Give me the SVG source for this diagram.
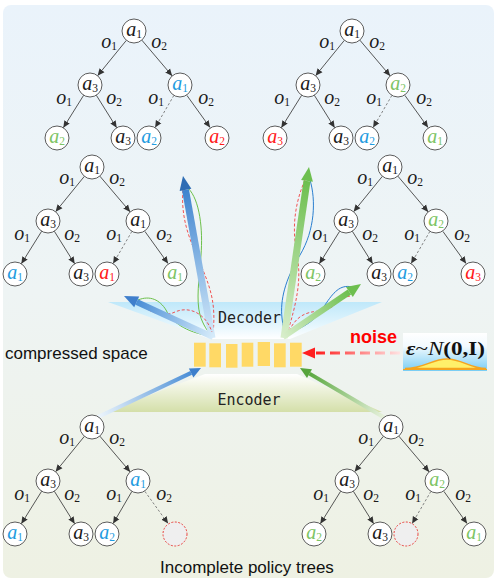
<svg xmlns="http://www.w3.org/2000/svg" width="499" height="583" viewBox="0 0 499 583">
<defs>
<style>
.nc{fill:#fff;stroke:#4a4a4a;stroke-width:0.9}
.ec{fill:#efefef;stroke:#e8312f;stroke-width:0.9;stroke-dasharray:2 1.5}
.t{font-family:"Liberation Serif","DejaVu Serif",serif;font-style:italic;font-size:20px;text-anchor:middle;fill:#1a1a1a}
.t tspan{font-style:normal;font-size:11.5px}
.bl{fill:#1e9be0}.gr{fill:#7dc465}.rd{fill:#ff1a1a}
.e{fill:none;stroke:#444;stroke-width:0.9;marker-end:url(#ah)}
.d{stroke-dasharray:2.5 2;stroke:#777}
.lab{font-family:"Liberation Sans",Arial,sans-serif;font-size:17px;fill:#111}
.mono{font-family:"DejaVu Sans Mono","Liberation Mono",monospace;font-size:15px;fill:#222;text-anchor:middle}
.bar{fill:#ffd966}
.wg{fill:none;stroke:#6cc04a;stroke-width:1}
.wb{fill:none;stroke:#2a7fd0;stroke-width:1}
.wr{fill:none;stroke:#f04040;stroke-width:0.9;stroke-dasharray:3 2}
</style>
<marker id="ah" viewBox="0 0 10 10" refX="10" refY="5" markerWidth="7" markerHeight="7" orient="auto" markerUnits="userSpaceOnUse"><path d="M0,0.5L10,5L0,9.5z" fill="#333"/></marker>
<linearGradient id="bg" x1="0" y1="0" x2="0" y2="1"><stop offset="0" stop-color="#eaf3fb"/><stop offset="0.5" stop-color="#eef4f4"/><stop offset="1" stop-color="#eef1e3"/></linearGradient>
<linearGradient id="dec" x1="0" y1="0" x2="0" y2="1"><stop offset="0" stop-color="#bfe8fa"/><stop offset="0.6" stop-color="#e2f5fd"/><stop offset="1" stop-color="#ffffff"/></linearGradient>
<linearGradient id="enc" x1="0" y1="0" x2="0" y2="1"><stop offset="0" stop-color="#ffffff"/><stop offset="1" stop-color="#d4dfa9"/></linearGradient>
<linearGradient id="nbox" x1="0" y1="0" x2="0" y2="1"><stop offset="0" stop-color="#ffffff"/><stop offset="0.35" stop-color="#f2fafe"/><stop offset="1" stop-color="#78cdf4"/></linearGradient>
<linearGradient id="gBU" gradientUnits="userSpaceOnUse" x1="212" y1="338" x2="185" y2="190"><stop offset="0" stop-color="#d6ebfa"/><stop offset="1" stop-color="#3f84cf"/></linearGradient>
<linearGradient id="gBL" gradientUnits="userSpaceOnUse" x1="213" y1="337" x2="137" y2="302"><stop offset="0" stop-color="#d6ebfa"/><stop offset="1" stop-color="#4a8ed6"/></linearGradient>
<linearGradient id="gGU" gradientUnits="userSpaceOnUse" x1="284" y1="338" x2="307" y2="181"><stop offset="0" stop-color="#d8eecb"/><stop offset="1" stop-color="#6dbf4f"/></linearGradient>
<linearGradient id="gGR" gradientUnits="userSpaceOnUse" x1="283" y1="337" x2="349" y2="292"><stop offset="0" stop-color="#d8eecb"/><stop offset="1" stop-color="#6dbf4f"/></linearGradient>
<linearGradient id="gEB" gradientUnits="userSpaceOnUse" x1="98" y1="417" x2="191" y2="373"><stop offset="0" stop-color="#eef6fc"/><stop offset="1" stop-color="#4a8ed6"/></linearGradient>
<linearGradient id="gEG" gradientUnits="userSpaceOnUse" x1="385" y1="418" x2="309" y2="374"><stop offset="0" stop-color="#eaf3e0"/><stop offset="1" stop-color="#5aa83f"/></linearGradient>
<linearGradient id="gN" gradientUnits="userSpaceOnUse" x1="400" y1="0" x2="318" y2="0"><stop offset="0" stop-color="#ffe2e2"/><stop offset="1" stop-color="#ff2222"/></linearGradient>
</defs>

<rect x="3" y="5" width="491" height="573" rx="8" fill="url(#bg)"/>

<g id="decoder">
<polygon points="108,302 382,302 290,339 210,339" fill="url(#dec)"/>
<text class="mono" x="249.5" y="323">Decoder</text>
</g>
<g id="encoder">
<polygon points="205,374 297,374 382,412 105,412" fill="url(#enc)"/>
<text class="mono" x="249" y="405">Encoder</text>
</g>

<g id="latent">
<rect class="bar" x="194" y="342.7" width="11.7" height="24"/>
<rect class="bar" x="209.3" y="343.3" width="11.7" height="24"/>
<rect class="bar" x="226" y="344" width="11.5" height="23.7"/>
<rect class="bar" x="241.7" y="342.7" width="11.6" height="24"/>
<rect class="bar" x="257.7" y="342" width="12.3" height="24"/>
<rect class="bar" x="274" y="343.3" width="11.7" height="24"/>
<rect class="bar" x="290" y="342.7" width="11.7" height="24"/>
</g>
<text class="lab" x="5" y="359">compressed space</text>
<text class="lab" x="160" y="573">Incomplete policy trees</text>

<g id="noise">
<text x="350" y="343" font-family="Liberation Sans,Arial,sans-serif" font-weight="bold" font-size="18" fill="#ff0000">noise</text>
<rect x="403" y="333" width="84" height="38" fill="url(#nbox)"/>
<path d="M405,368.5C424,368.5 432,359 447,359C462,359 470,368.5 486,368.5Z" fill="#fff06a" stroke="#f5a41e" stroke-width="1.5"/>
<line x1="403" y1="369.5" x2="487" y2="369.5" stroke="#f5a41e" stroke-width="1.2"/>
<text x="406" y="355" textLength="79" lengthAdjust="spacingAndGlyphs" font-family="Liberation Serif,DejaVu Serif,serif" font-size="19" font-weight="bold" fill="#111"><tspan font-style="italic">ε</tspan><tspan font-weight="normal">~</tspan><tspan font-style="italic" font-weight="normal">N</tspan>(0,I)</text>
</g>

<g id="connectors">
<line x1="400" y1="353" x2="316" y2="353" stroke="url(#gN)" stroke-width="3.2" stroke-dasharray="10 5"/>
<polygon points="302,353 315,347.5 315,358.5" fill="#ff2020"/>

<path class="wr" d="M183,190C180,225 195,250 203,270C211,290 216,305 213,334"/>
<path class="wg" d="M188,188C200,200 203,230 201,255C199,280 196,300 200,315C203,325 208,332 212,336"/>
<line x1="212" y1="338" x2="185.5" y2="189.8" stroke="url(#gBU)" stroke-width="7"/>
<polygon points="183,176 191.4,188.7 179.6,190.9" fill="#2e6db4"/>

<path class="wg" d="M138,300C150,295 160,300 166,310C172,322 185,332 210,336"/>
<path class="wr" d="M140,304C150,312 162,318 175,312C188,306 205,312 212,332"/>
<line x1="213" y1="337" x2="136.7" y2="301.9" stroke="url(#gBL)" stroke-width="6"/>
<polygon points="124,296 139.2,296.4 134.2,307.3" fill="#3f7fcc"/>

<path class="wb" d="M310,180C316,200 315,230 300,255C285,280 280,300 282,318C283,326 284,332 285,336"/>
<path class="wr" d="M305,180C294,205 292,230 297,255C302,280 296,305 287,334"/>
<line x1="284" y1="338" x2="307" y2="180.9" stroke="url(#gGU)" stroke-width="7"/>
<polygon points="309,167 312.9,181.8 301.1,180" fill="#6dbf4f"/>

<path class="wb" d="M352,287C340,284 333,293 325,305C318,318 305,328 287,333"/>
<path class="wr" d="M350,296C338,298 335,310 320,311C305,312 296,316 288,333"/>
<line x1="283" y1="337" x2="349.4" y2="291.9" stroke="url(#gGR)" stroke-width="6"/>
<polygon points="361,284 352.8,296.9 346,286.9" fill="#6dbf4f"/>

<line x1="98" y1="417" x2="191.1" y2="372.9" stroke="url(#gEB)" stroke-width="4"/>
<polygon points="201,368 193.4,377.4 188.9,368.4" fill="#3d7fcc"/>
<line x1="385" y1="418" x2="309.5" y2="373.6" stroke="url(#gEG)" stroke-width="4"/>
<polygon points="300,368 312,369.3 307,377.9" fill="#56a43c"/>
</g>

<!-- Tree TL -->
<g id="tree-tl" transform="translate(134,31)">
<g id="tl-edges">
<path class="e" d="M-7.6,9.3L-36.4,44.7"/><path class="e" d="M7.8,9.1L38.2,44.9"/>
<path class="e" d="M-50.3,64.2L-70.7,96.8"/><path class="e" d="M-37.7,64.2L-17.3,96.8"/>
<path class="e d" d="M39.9,64.4L21.1,96.6"/><path class="e" d="M52.9,64.4L76.1,96.6"/>
<text class="t" x="-25" y="17">o<tspan dy="2">1</tspan></text><text class="t" x="25" y="17">o<tspan dy="2">2</tspan></text>
<text class="t" x="-70" y="73">o<tspan dy="2">1</tspan></text><text class="t" x="-20" y="73">o<tspan dy="2">2</tspan></text>
<text class="t" x="22" y="73">o<tspan dy="2">1</tspan></text><text class="t" x="72" y="73">o<tspan dy="2">2</tspan></text>
</g>
<g id="tl-n0"><circle class="nc" r="12"/><text class="t" y="5">a<tspan dy="2">1</tspan></text></g>
<g id="tl-n1" transform="translate(-44,54)"><circle class="nc" r="12"/><text class="t" y="5">a<tspan dy="2">3</tspan></text></g>
<g id="tl-n2" transform="translate(46,54)"><circle class="nc" r="12"/><text class="t bl" y="5">a<tspan dy="2">1</tspan></text></g>
<g id="tl-n3" transform="translate(-77,107)"><circle class="nc" r="12"/><text class="t gr" y="5">a<tspan dy="2">2</tspan></text></g>
<g id="tl-n4" transform="translate(-11,107)"><circle class="nc" r="12"/><text class="t" y="5">a<tspan dy="2">3</tspan></text></g>
<g id="tl-n5" transform="translate(15,107)"><circle class="nc" r="12"/><text class="t bl" y="5">a<tspan dy="2">2</tspan></text></g>
<g id="tl-n6" transform="translate(83,107)"><circle class="nc" r="12"/><text class="t rd" y="5">a<tspan dy="2">2</tspan></text></g>
</g>

<!-- Tree TR -->
<g id="tree-tr" transform="translate(352,31)">
<g id="tr-edges">
<path class="e" d="M-7.6,9.3L-36.4,44.7"/><path class="e" d="M7.8,9.1L38.2,44.9"/>
<path class="e" d="M-50.3,64.2L-70.7,96.8"/><path class="e" d="M-37.7,64.2L-17.3,96.8"/>
<path class="e d" d="M39.9,64.4L21.1,96.6"/><path class="e" d="M52.9,64.4L76.1,96.6"/>
<text class="t" x="-25" y="17">o<tspan dy="2">1</tspan></text><text class="t" x="25" y="17">o<tspan dy="2">2</tspan></text>
<text class="t" x="-70" y="73">o<tspan dy="2">1</tspan></text><text class="t" x="-20" y="73">o<tspan dy="2">2</tspan></text>
<text class="t" x="22" y="73">o<tspan dy="2">1</tspan></text><text class="t" x="72" y="73">o<tspan dy="2">2</tspan></text>
</g>
<g id="tr-n0"><circle class="nc" r="12"/><text class="t" y="5">a<tspan dy="2">1</tspan></text></g>
<g id="tr-n1" transform="translate(-44,54)"><circle class="nc" r="12"/><text class="t" y="5">a<tspan dy="2">3</tspan></text></g>
<g id="tr-n2" transform="translate(46,54)"><circle class="nc" r="12"/><text class="t gr" y="5">a<tspan dy="2">2</tspan></text></g>
<g id="tr-n3" transform="translate(-77,107)"><circle class="nc" r="12"/><text class="t rd" y="5">a<tspan dy="2">3</tspan></text></g>
<g id="tr-n4" transform="translate(-11,107)"><circle class="nc" r="12"/><text class="t" y="5">a<tspan dy="2">3</tspan></text></g>
<g id="tr-n5" transform="translate(15,107)"><circle class="nc" r="12"/><text class="t bl" y="5">a<tspan dy="2">2</tspan></text></g>
<g id="tr-n6" transform="translate(83,107)"><circle class="nc" r="12"/><text class="t gr" y="5">a<tspan dy="2">1</tspan></text></g>
</g>

<!-- Tree ML -->
<g id="tree-ml" transform="translate(92,167)">
<g id="ml-edges">
<path class="e" d="M-7.6,9.3L-36.4,44.7"/><path class="e" d="M7.8,9.1L38.2,44.9"/>
<path class="e" d="M-50.3,64.2L-70.7,96.8"/><path class="e" d="M-37.7,64.2L-17.3,96.8"/>
<path class="e d" d="M39.9,64.4L21.1,96.6"/><path class="e" d="M52.9,64.4L76.1,96.6"/>
<text class="t" x="-25" y="17">o<tspan dy="2">1</tspan></text><text class="t" x="25" y="17">o<tspan dy="2">2</tspan></text>
<text class="t" x="-70" y="73">o<tspan dy="2">1</tspan></text><text class="t" x="-20" y="73">o<tspan dy="2">2</tspan></text>
<text class="t" x="22" y="73">o<tspan dy="2">1</tspan></text><text class="t" x="72" y="73">o<tspan dy="2">2</tspan></text>
</g>
<g id="ml-n0"><circle class="nc" r="12"/><text class="t" y="5">a<tspan dy="2">1</tspan></text></g>
<g id="ml-n1" transform="translate(-44,54)"><circle class="nc" r="12"/><text class="t" y="5">a<tspan dy="2">3</tspan></text></g>
<g id="ml-n2" transform="translate(46,54)"><circle class="nc" r="12"/><text class="t" y="5">a<tspan dy="2">1</tspan></text></g>
<g id="ml-n3" transform="translate(-77,107)"><circle class="nc" r="12"/><text class="t bl" y="5">a<tspan dy="2">1</tspan></text></g>
<g id="ml-n4" transform="translate(-11,107)"><circle class="nc" r="12"/><text class="t" y="5">a<tspan dy="2">3</tspan></text></g>
<g id="ml-n5" transform="translate(15,107)"><circle class="nc" r="12"/><text class="t rd" y="5">a<tspan dy="2">1</tspan></text></g>
<g id="ml-n6" transform="translate(83,107)"><circle class="nc" r="12"/><text class="t gr" y="5">a<tspan dy="2">1</tspan></text></g>
</g>

<!-- Tree MR -->
<g id="tree-mr" transform="translate(390,167)">
<g id="mr-edges">
<path class="e" d="M-7.6,9.3L-36.4,44.7"/><path class="e" d="M7.8,9.1L38.2,44.9"/>
<path class="e" d="M-50.3,64.2L-70.7,96.8"/><path class="e" d="M-37.7,64.2L-17.3,96.8"/>
<path class="e d" d="M39.9,64.4L21.1,96.6"/><path class="e" d="M52.9,64.4L76.1,96.6"/>
<text class="t" x="-25" y="17">o<tspan dy="2">1</tspan></text><text class="t" x="25" y="17">o<tspan dy="2">2</tspan></text>
<text class="t" x="-70" y="73">o<tspan dy="2">1</tspan></text><text class="t" x="-20" y="73">o<tspan dy="2">2</tspan></text>
<text class="t" x="22" y="73">o<tspan dy="2">1</tspan></text><text class="t" x="72" y="73">o<tspan dy="2">2</tspan></text>
</g>
<g id="mr-n0"><circle class="nc" r="12"/><text class="t" y="5">a<tspan dy="2">1</tspan></text></g>
<g id="mr-n1" transform="translate(-44,54)"><circle class="nc" r="12"/><text class="t" y="5">a<tspan dy="2">3</tspan></text></g>
<g id="mr-n2" transform="translate(46,54)"><circle class="nc" r="12"/><text class="t gr" y="5">a<tspan dy="2">2</tspan></text></g>
<g id="mr-n3" transform="translate(-77,107)"><circle class="nc" r="12"/><text class="t gr" y="5">a<tspan dy="2">2</tspan></text></g>
<g id="mr-n4" transform="translate(-11,107)"><circle class="nc" r="12"/><text class="t" y="5">a<tspan dy="2">3</tspan></text></g>
<g id="mr-n5" transform="translate(15,107)"><circle class="nc" r="12"/><text class="t bl" y="5">a<tspan dy="2">2</tspan></text></g>
<g id="mr-n6" transform="translate(83,107)"><circle class="nc" r="12"/><text class="t rd" y="5">a<tspan dy="2">3</tspan></text></g>
</g>

<!-- Tree BL -->
<g id="tree-bl" transform="translate(92,427)">
<g id="bl-edges">
<path class="e" d="M-7.6,9.3L-36.4,44.7"/><path class="e" d="M7.8,9.1L38.2,44.9"/>
<path class="e" d="M-50.3,64.2L-70.7,96.8"/><path class="e" d="M-37.7,64.2L-17.3,96.8"/>
<path class="e" d="M39.9,64.4L21.1,96.6"/><path class="e d" d="M52.9,64.4L76.1,96.6"/>
<text class="t" x="-25" y="17">o<tspan dy="2">1</tspan></text><text class="t" x="25" y="17">o<tspan dy="2">2</tspan></text>
<text class="t" x="-70" y="73">o<tspan dy="2">1</tspan></text><text class="t" x="-20" y="73">o<tspan dy="2">2</tspan></text>
<text class="t" x="22" y="73">o<tspan dy="2">1</tspan></text><text class="t" x="72" y="73">o<tspan dy="2">2</tspan></text>
</g>
<g id="bl-n0"><circle class="nc" r="12"/><text class="t" y="5">a<tspan dy="2">1</tspan></text></g>
<g id="bl-n1" transform="translate(-44,54)"><circle class="nc" r="12"/><text class="t" y="5">a<tspan dy="2">3</tspan></text></g>
<g id="bl-n2" transform="translate(46,54)"><circle class="nc" r="12"/><text class="t bl" y="5">a<tspan dy="2">1</tspan></text></g>
<g id="bl-n3" transform="translate(-77,107)"><circle class="nc" r="12"/><text class="t bl" y="5">a<tspan dy="2">1</tspan></text></g>
<g id="bl-n4" transform="translate(-11,107)"><circle class="nc" r="12"/><text class="t" y="5">a<tspan dy="2">3</tspan></text></g>
<g id="bl-n5" transform="translate(15,107)"><circle class="nc" r="12"/><text class="t bl" y="5">a<tspan dy="2">2</tspan></text></g>
<g id="bl-n6" transform="translate(83,107)"><circle class="ec" r="12"/></g>
</g>

<!-- Tree BR -->
<g id="tree-br" transform="translate(391,427)">
<g id="br-edges">
<path class="e" d="M-7.6,9.3L-36.4,44.7"/><path class="e" d="M7.8,9.1L38.2,44.9"/>
<path class="e" d="M-50.3,64.2L-70.7,96.8"/><path class="e" d="M-37.7,64.2L-17.3,96.8"/>
<path class="e d" d="M39.9,64.4L21.1,96.6"/><path class="e" d="M52.9,64.4L76.1,96.6"/>
<text class="t" x="-25" y="17">o<tspan dy="2">1</tspan></text><text class="t" x="25" y="17">o<tspan dy="2">2</tspan></text>
<text class="t" x="-70" y="73">o<tspan dy="2">1</tspan></text><text class="t" x="-20" y="73">o<tspan dy="2">2</tspan></text>
<text class="t" x="22" y="73">o<tspan dy="2">1</tspan></text><text class="t" x="72" y="73">o<tspan dy="2">2</tspan></text>
</g>
<g id="br-n0"><circle class="nc" r="12"/><text class="t" y="5">a<tspan dy="2">1</tspan></text></g>
<g id="br-n1" transform="translate(-44,54)"><circle class="nc" r="12"/><text class="t" y="5">a<tspan dy="2">3</tspan></text></g>
<g id="br-n2" transform="translate(46,54)"><circle class="nc" r="12"/><text class="t gr" y="5">a<tspan dy="2">2</tspan></text></g>
<g id="br-n3" transform="translate(-77,107)"><circle class="nc" r="12"/><text class="t gr" y="5">a<tspan dy="2">2</tspan></text></g>
<g id="br-n4" transform="translate(-11,107)"><circle class="nc" r="12"/><text class="t" y="5">a<tspan dy="2">3</tspan></text></g>
<g id="br-n5" transform="translate(15,107)"><circle class="ec" r="12"/></g>
<g id="br-n6" transform="translate(83,107)"><circle class="nc" r="12"/><text class="t gr" y="5">a<tspan dy="2">1</tspan></text></g>
</g>
</svg>
